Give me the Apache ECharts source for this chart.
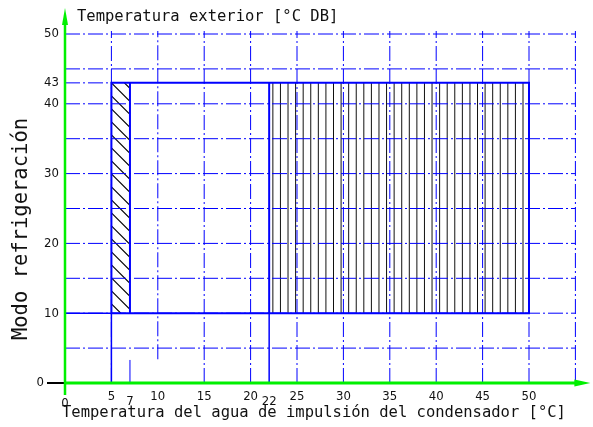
<!DOCTYPE html>
<html>
<head>
<meta charset="utf-8">
<script src="https://cdn.jsdelivr.net/npm/echarts@6/dist/echarts.min.js"></script>
<style>
  html, body { margin: 0; padding: 0; background: #fff; }
  #chart { width: 593px; height: 427px; }
</style>
</head>
<body>
<div id="chart"></div>
<script>
// valores
const xTicks = [0, 5, 7, 10, 15, 20, 22, 25, 30, 35, 40, 45, 50];
const yTicks = [0, 10, 20, 30, 40, 43, 50];
const xGrid = [5, 10, 15, 20, 25, 30, 35, 40, 45, 50, 55];
const xGridFrom = [0, 3.4, 0, 0, 0, 0, 0, 0, 0, 0, 0];
const yGrid = [5, 10, 15, 20, 25, 30, 35, 40, 45, 50];
// [x desde, x hasta, y desde, y hasta]
const envelope = [5, 50, 10, 43];
const zoneDiag = [5, 7, 10, 43];
const zoneVert = [22, 50, 10, 43];
const xMax = 55;
const yMax = 50;

const BLUE = '#0000ff';
const GREEN = '#00f000';
const tickFont = '"Liberation Sans Narrow", "DejaVu Sans Condensed", sans-serif';
const dashDot = [15, 3, 2, 3];

let myChart = echarts.init(document.getElementById('chart'));

function line(p1, p2, style) {
  return { type: 'line', shape: { x1: p1[0], y1: p1[1], x2: p2[0], y2: p2[1] }, style: style };
}

// rayado de las zonas
function renderHatch(params, api) {
  const tl = api.coord([api.value(0), api.value(3)]);
  const br = api.coord([api.value(1), api.value(2)]);
  const x0 = tl[0], y0 = tl[1], x1 = br[0], y1 = br[1];
  const children = [];
  if (api.value(4) === 0) {
    // diagonales
    const s = 13;
    const cStart = y0 - x0;
    for (let k = -40; k < 60; k++) {
      const c = cStart + k * s;
      const xa = Math.max(x0, y0 - c);
      const xb = Math.min(x1, y1 - c);
      if (xb - xa > 0.5) {
        children.push(line([xa, xa + c], [xb, xb + c], { stroke: '#000', lineWidth: 1.2 }));
      }
    }
  } else {
    // verticales
    for (let x = x0 + 3.7; x < x1 - 2; x += 7.58) {
      children.push(line([x, y0], [x, y1], { stroke: '#111', lineWidth: 1 }));
    }
  }
  return { type: 'group', children: children };
}

function renderVGrid(params, api) {
  const x = api.value(0);
  const p1 = api.coord([x, api.value(1)]);
  const p2 = api.coord([x, yMax]);
  return line(p1, [p2[0], p2[1] - 3], { stroke: BLUE, lineWidth: 1, lineDash: dashDot });
}

function renderHGrid(params, api) {
  const y = api.value(0);
  return line(api.coord([0, y]), api.coord([xMax, y]), { stroke: BLUE, lineWidth: 1, lineDash: dashDot });
}

function renderEnvelope(params, api) {
  const solid = { stroke: BLUE, lineWidth: 2 };
  const tl = api.coord([envelope[0], envelope[3]]);
  const br = api.coord([envelope[1], envelope[2]]);
  const children = [
    { type: 'rect', shape: { x: tl[0], y: tl[1], width: br[0] - tl[0], height: br[1] - tl[1] },
      style: { stroke: BLUE, lineWidth: 2, fill: null } },
    line(api.coord([zoneDiag[1], zoneDiag[2]]), api.coord([zoneDiag[1], zoneDiag[3]]), solid),
    line(api.coord([zoneVert[0], zoneVert[2]]), api.coord([zoneVert[0], zoneVert[3]]), solid),
    // lineas de referencia hacia los ejes
    line(api.coord([envelope[0], 0]), api.coord([envelope[0], envelope[2]]), { stroke: BLUE, lineWidth: 1.5 }),
    line(api.coord([zoneVert[0], 0]), api.coord([zoneVert[0], zoneVert[2]]), { stroke: BLUE, lineWidth: 1.5 }),
    line(api.coord([0, envelope[2]]), api.coord([envelope[0], envelope[2]]), { stroke: BLUE, lineWidth: 1.5 }),
    line(api.coord([0, envelope[3]]), api.coord([envelope[0], envelope[3]]), { stroke: BLUE, lineWidth: 1, lineDash: dashDot }),
    line(api.coord([zoneDiag[1], 0]), api.coord([zoneDiag[1], 3.3]), { stroke: BLUE, lineWidth: 1 })
  ];
  return { type: 'group', children: children };
}

function renderAxes(params, api) {
  const o = api.coord([0, 0]);
  const xe = api.coord([xMax, 0]);
  const ye = api.coord([0, yMax]);
  const xTip = xe[0] + 15;
  const yTip = ye[1] - 26;
  return {
    type: 'group',
    children: [
      line([o[0] - 18, o[1]], [o[0], o[1]], { stroke: '#000', lineWidth: 2 }),
      line([o[0], o[1]], [xTip - 12, o[1]], { stroke: GREEN, lineWidth: 3 }),
      line([o[0], o[1] + 12], [o[0], yTip + 14], { stroke: GREEN, lineWidth: 2.5 }),
      { type: 'polygon', shape: { points: [[xTip, o[1]], [xTip - 16, o[1] - 3.5], [xTip - 16, o[1] + 3.5]] },
        style: { fill: GREEN } },
      { type: 'polygon', shape: { points: [[o[0], yTip], [o[0] - 3, yTip + 17], [o[0] + 3, yTip + 17]] },
        style: { fill: GREEN } }
    ]
  };
}

let option = {
  animation: false,
  grid: { left: 65, right: 17.6, top: 34, bottom: 44 },
  xAxis: {
    type: 'value',
    min: 0,
    max: xMax,
    axisLine: { show: false },
    axisTick: { show: false },
    splitLine: { show: false },
    axisLabel: {
      customValues: xTicks,
      margin: 7,
      color: '#111',
      fontFamily: tickFont,
      fontSize: 13,
      formatter: function (v) {
        if (v === 0) return '{zero|0}';
        if (v === 7 || v === 22) return '{low|' + v + '}';
        return '' + v;
      },
      rich: {
        low: { padding: [5, 0, 0, 0], fontFamily: tickFont, fontSize: 13, color: '#111' },
        zero: { padding: [7, 0, 0, 0], fontFamily: tickFont, fontSize: 13, color: '#111' }
      }
    }
  },
  yAxis: {
    type: 'value',
    min: 0,
    max: yMax,
    axisLine: { show: false },
    axisTick: { show: false },
    splitLine: { show: false },
    axisLabel: {
      customValues: yTicks,
      margin: 6,
      color: '#111',
      fontFamily: tickFont,
      fontSize: 13,
      formatter: function (v) {
        return v === 0 ? '{zero|0}' : '' + v;
      },
      rich: {
        zero: { padding: [0, 15, 0, 0], fontFamily: tickFont, fontSize: 13, color: '#111' }
      }
    }
  },
  graphic: [
    { type: 'text', x: 77, y: 17,
      style: { text: 'Temperatura exterior [°C DB]', font: '15.5px "DejaVu Sans Mono"', fill: '#111',
               textVerticalAlign: 'middle' } },
    { type: 'text', x: 62, y: 413,
      style: { text: 'Temperatura del agua de impulsión del condensador [°C]', font: '15.5px "DejaVu Sans Mono"',
               fill: '#111', textVerticalAlign: 'middle' } },
    { type: 'text', x: 22, y: 229, rotation: Math.PI / 2,
      style: { text: 'Modo refrigeración', font: '20.5px "DejaVu Sans Mono"', fill: '#111',
               textAlign: 'center', textVerticalAlign: 'middle' } }
  ],
  series: [
    {
      name: 'rayado',
      type: 'custom',
      z: 1,
      renderItem: renderHatch,
      data: [zoneDiag.concat([0]), zoneVert.concat([1])]
    },
    {
      name: 'cuadricula vertical',
      type: 'custom',
      z: 2,
      renderItem: renderVGrid,
      data: xGrid.map((x, i) => [x, xGridFrom[i]])
    },
    {
      name: 'cuadricula horizontal',
      type: 'custom',
      z: 2,
      renderItem: renderHGrid,
      data: yGrid.map(y => [y, 0])
    },
    {
      name: 'envolvente',
      type: 'custom',
      z: 3,
      renderItem: renderEnvelope,
      data: [[0, 0]]
    },
    {
      name: 'ejes',
      type: 'custom',
      z: 4,
      renderItem: renderAxes,
      data: [[0, 0]]
    }
  ]
};

myChart.setOption(option);
</script>
</body>
</html>
